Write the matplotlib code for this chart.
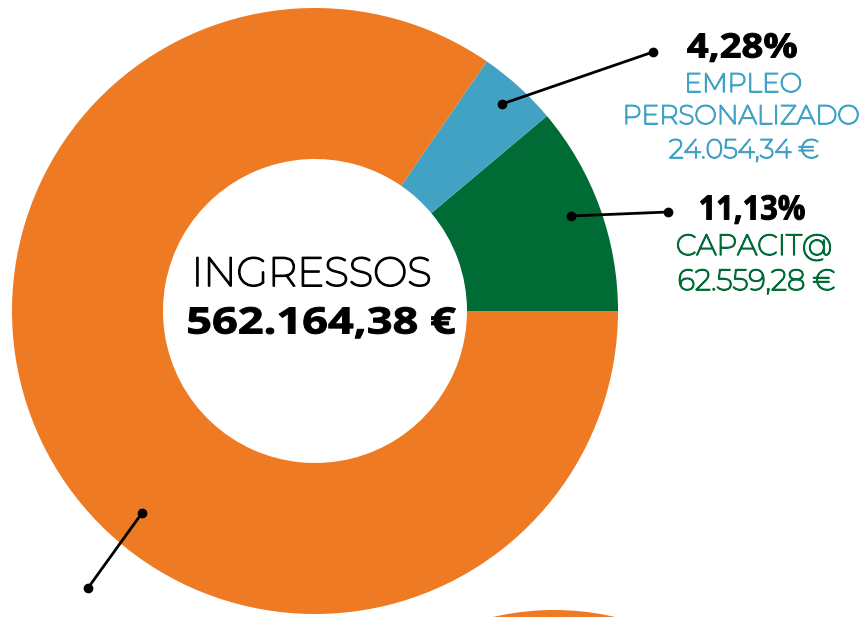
import numpy as np
import matplotlib.pyplot as plt
import matplotlib.patheffects as pe
from matplotlib.patches import Circle, PathPatch
from matplotlib.textpath import TextPath
from matplotlib.font_manager import FontProperties
from matplotlib.transforms import Affine2D

# =========================
# DATA
# =========================
labels = ["CAPACIT@", "EMPLEO\nPERSONALIZADO", "OTROS"]
amounts = [62559.28, 24054.34, 475550.76]
pct_labels = ["11,13%", "4,28%", ""]
amount_labels = ["62.559,28 €", "24.054,34 €", ""]
total_label = "562.164,38 €"
colors = ["#006B35", "#42A2C4", "#EE7A23"]

W, H = 860, 617


def Y(y):
    # picture coords (top-down) -> axis coords
    return H - y


def light(color, lw):
    # Montserrat variable font renders thin, so fatten it a bit
    return [pe.withStroke(linewidth=lw, foreground=color)]


BOLD = FontProperties(family='Open Sans', weight='bold')
CAP = TextPath((0, 0), "H", size=1, prop=BOLD).get_extents().height
EDGE = 0.7  # extra outline (pt) to get closer to a heavy weight
EDGE_PX = EDGE * 100 / 72


def bold_text(ax, xc, yb, s, cap_h, width, color='black'):
    # bold label drawn as a path, sized to cap height and width
    tp = TextPath((0, 0), s, size=1, prop=BOLD)
    bb = tp.get_extents()
    sx = (width - EDGE_PX) / bb.width
    sy = (cap_h - EDGE_PX) / CAP
    tr = (Affine2D().translate(-(bb.x0 + bb.x1) / 2, 0)
          .scale(sx, sy).translate(xc, Y(yb) + EDGE_PX / 2))
    ax.add_patch(PathPatch(tr.transform_path(tp), facecolor=color,
                           edgecolor=color, lw=EDGE, joinstyle='round'))


# =========================
# FIGURE
# =========================
plt.rcParams['font.family'] = ['Montserrat', 'DejaVu Sans']
fig = plt.figure(figsize=(8.6, 6.17), dpi=100)
ax = fig.add_axes([0, 0, 1, 1])

ax.pie(amounts, colors=colors, startangle=0, counterclock=True,
       radius=303, center=(315, Y(311)),
       wedgeprops=dict(width=151, linewidth=0))

# piece of the next chart, cut off at the bottom
ax.add_patch(Circle((554, Y(880)), 270, color=colors[2], lw=0))

ax.set_xlim(0, W)
ax.set_ylim(0, H)
ax.set_aspect('equal')
ax.axis('off')

# centre text
ax.text(311.5, Y(286), "INGRESSOS", ha='center', va='baseline',
        fontsize=29.3, color='black', path_effects=light('black', 1.3))
bold_text(ax, 322, 334, total_label, 27, 268)

# =========================
# LEADERS + LABELS
# =========================
leaders = [((571, 216), (668, 212)),
           ((502, 104), (653, 52)),
           ((142, 513), (88, 588))]
for (x0, y0), (x1, y1) in leaders:
    ax.plot([x0, x1], [Y(y0), Y(y1)], color='black', lw=2,
            marker='o', ms=6, solid_capstyle='round')

# EMPLEO PERSONALIZADO
bold_text(ax, 742, 58, pct_labels[1], 25, 110)
for txt, xc, yb in zip(["EMPLEO", "PERSONALIZADO", amount_labels[1]],
                       [743, 741, 744], [92, 124, 158]):
    ax.text(xc, Y(yb), txt, ha='center', va='baseline', fontsize=19.2,
            color=colors[1], path_effects=light(colors[1], 1.1))

# CAPACIT@
bold_text(ax, 752.5, 220, pct_labels[0], 25, 105)
for txt, xc, yb in zip(["CAPACIT@", amount_labels[0]], [754, 756.5], [255, 290]):
    ax.text(xc, Y(yb), txt, ha='center', va='baseline', fontsize=21,
            color=colors[0], path_effects=light(colors[0], 1.1))

fig.savefig("out.png", dpi=100)
